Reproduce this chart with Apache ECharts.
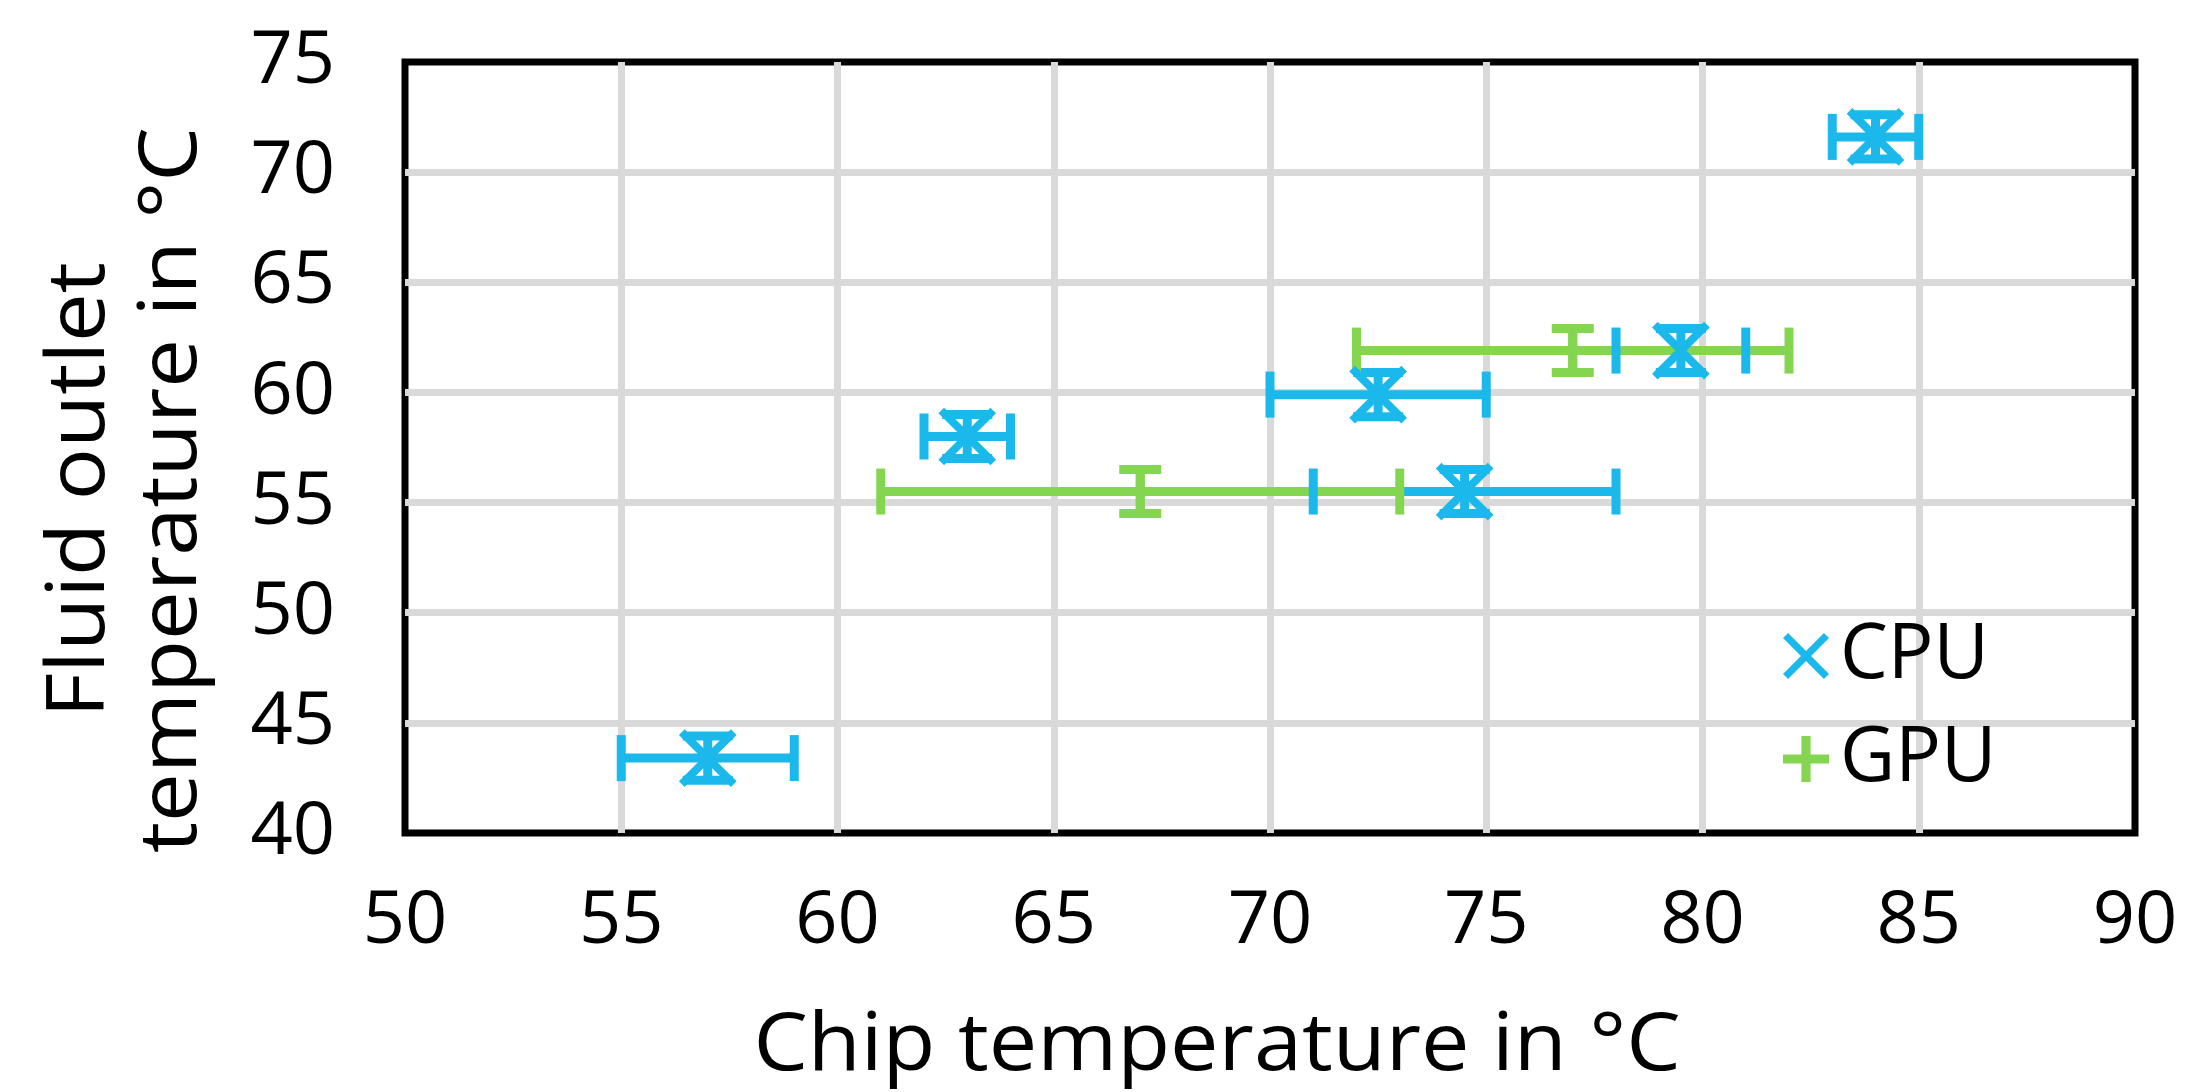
<!DOCTYPE html>
<html>
<head>
<meta charset="utf-8">
<script src="https://cdn.jsdelivr.net/npm/echarts@6/dist/echarts.min.js"></script>
<style>
html,body{margin:0;padding:0;background:#fff;}
#c{width:2209px;height:1092px;}
</style>
</head>
<body>
<div id="c"></div>
<script>
// ---- data ----
const cpuX    = [57.0, 63.0, 72.5, 74.5, 79.5, 84.0];
const cpuY    = [43.4, 58.0, 59.9, 55.5, 61.9, 71.6];
const cpuXErr = [2.0, 1.0, 2.5, 3.5, 1.5, 1.0];
const cpuYErr = [1.0, 1.0, 1.0, 1.0, 1.0, 1.0];

const gpuX    = [67.0, 77.0];
const gpuY    = [55.5, 61.9];
const gpuXErr = [6.0, 5.0];
const gpuYErr = [1.0, 1.0];

const seriesNames = ['CPU', 'GPU'];
const xTicks = [50, 55, 60, 65, 70, 75, 80, 85, 90];
const yTicks = [40, 45, 50, 55, 60, 65, 70, 75];
const xTitle = 'Chip temperature in °C';
const yTitle = 'Fluid outlet\ntemperature in °C';

// ---- style ----
const BLUE = '#1BB9EB';
const GREEN = '#84D650';
const FONT = 'Open Sans';
const LW = 9;

function rows(xs, ys, xe, ye) {
  return xs.map((x, i) => [x, ys[i], xe[i], ye[i]]);
}

function makeRender(color, marker, yCapW) {
  return function (params, api) {
    const x = api.value(0), y = api.value(1), ex = api.value(2), ey = api.value(3);
    const c = api.coord([x, y]);
    const l = api.coord([x - ex, y]);
    const r = api.coord([x + ex, y]);
    const t = api.coord([x, y + ey]);
    const b = api.coord([x, y - ey]);
    const st = { stroke: color, lineWidth: LW, lineCap: 'butt' };
    const xCapH = 23;
    const children = [
      { type: 'line', z2: 1, shape: { x1: l[0], y1: c[1], x2: r[0], y2: c[1] }, style: st },
      { type: 'line', z2: 1, shape: { x1: c[0], y1: t[1], x2: c[0], y2: b[1] }, style: st },
      { type: 'line', z2: 2, shape: { x1: l[0], y1: c[1] - xCapH, x2: l[0], y2: c[1] + xCapH }, style: st },
      { type: 'line', z2: 2, shape: { x1: r[0], y1: c[1] - xCapH, x2: r[0], y2: c[1] + xCapH }, style: st },
      { type: 'line', z2: 2, shape: { x1: c[0] - yCapW, y1: t[1], x2: c[0] + yCapW, y2: t[1] }, style: st },
      { type: 'line', z2: 2, shape: { x1: c[0] - yCapW, y1: b[1], x2: c[0] + yCapW, y2: b[1] }, style: st }
    ];
    if (marker === 'x') {
      const s = 26;
      children.push({ type: 'line', z2: 3, shape: { x1: c[0] - s, y1: c[1] - s, x2: c[0] + s, y2: c[1] + s }, style: { stroke: color, lineWidth: 8 } });
      children.push({ type: 'line', z2: 3, shape: { x1: c[0] - s, y1: c[1] + s, x2: c[0] + s, y2: c[1] - s }, style: { stroke: color, lineWidth: 8 } });
    } else {
      const s = 21;
      children.push({ type: 'line', z2: 3, shape: { x1: c[0] - s, y1: c[1], x2: c[0] + s, y2: c[1] }, style: { stroke: color, lineWidth: 9 } });
      children.push({ type: 'line', z2: 3, shape: { x1: c[0], y1: c[1] - s, x2: c[0], y2: c[1] + s }, style: { stroke: color, lineWidth: 9 } });
    }
    return { type: 'group', children: children };
  };
}

const X_ICON = 'path://M0,11L11,0L50,39L89,0L100,11L61,50L100,89L89,100L50,61L11,100L0,89L39,50Z';
const P_ICON = 'path://M40,0H60V40H100V60H60V100H40V60H0V40H40Z';

const chart = echarts.init(document.getElementById('c'), null, { renderer: 'canvas' });
chart.setOption({
  animation: false,
  backgroundColor: '#fff',
  textStyle: { fontFamily: FONT },
  grid: {
    left: 405, right: 74, top: 62, bottom: 259,
    show: true, borderColor: '#000', borderWidth: 7, backgroundColor: 'transparent'
  },
  xAxis: {
    type: 'value', min: xTicks[0], max: xTicks[xTicks.length - 1], interval: 5,
    axisLine: { show: false }, axisTick: { show: false },
    axisLabel: { fontSize: 74, color: '#000', margin: 52, fontFamily: FONT },
    splitLine: { show: true, showMinLine: false, showMaxLine: false, lineStyle: { color: '#D9D9D9', width: 7 } }
  },
  yAxis: {
    type: 'value', min: yTicks[0], max: yTicks[yTicks.length - 1], interval: 5,
    axisLine: { show: false }, axisTick: { show: false },
    axisLabel: { fontSize: 74, color: '#000', margin: 70, fontFamily: FONT },
    splitLine: { show: true, showMinLine: false, showMaxLine: false, lineStyle: { color: '#D9D9D9', width: 7 } }
  },
  legend: {
    orient: 'vertical', left: 1778, top: 609,
    itemWidth: 46, itemHeight: 46, itemGap: 19,
    textStyle: { fontSize: 76, color: '#000', fontFamily: FONT, lineHeight: 84, padding: [0, 0, 0, 6] },
    data: [
      { name: seriesNames[0], icon: X_ICON, itemStyle: { color: BLUE } },
      { name: seriesNames[1], icon: P_ICON, itemStyle: { color: GREEN } }
    ]
  },
  series: [
    {
      name: seriesNames[0], type: 'custom', itemStyle: { color: BLUE },
      renderItem: makeRender(BLUE, 'x', 25),
      encode: { x: 0, y: 1 },
      data: rows(cpuX, cpuY, cpuXErr, cpuYErr)
    },
    {
      name: seriesNames[1], type: 'custom', itemStyle: { color: GREEN },
      renderItem: makeRender(GREEN, '+', 21),
      encode: { x: 0, y: 1 },
      data: rows(gpuX, gpuY, gpuXErr, gpuYErr)
    }
  ],
  graphic: [
    {
      type: 'text', x: 1217, y: 1047, scaleX: 1.08,
      style: { text: xTitle, fontSize: 80, fontFamily: FONT, fill: '#000', textAlign: 'center', textVerticalAlign: 'middle' }
    },
    {
      type: 'text', x: 127, y: 490, rotation: Math.PI / 2, scaleX: 1.085,
      style: { text: yTitle, fontSize: 80, fontFamily: FONT, fill: '#000', textAlign: 'center', textVerticalAlign: 'middle', lineHeight: 92 }
    }
  ]
});
</script>
</body>
</html>
